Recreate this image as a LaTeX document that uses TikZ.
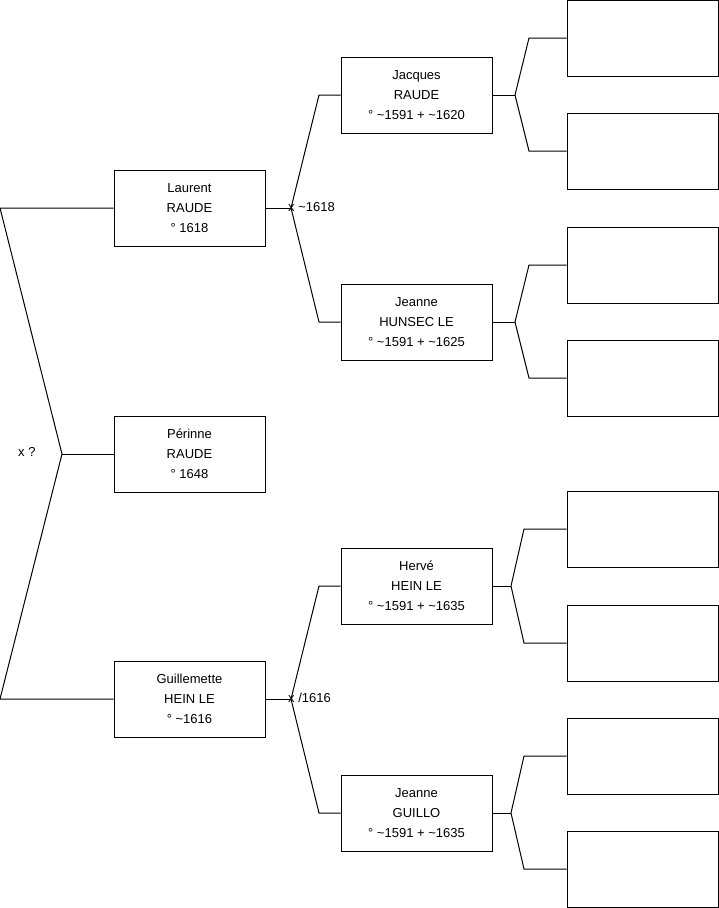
\documentclass[tikz,border=0pt]{standalone}
\usepackage{fontspec}
\setmainfont{Liberation Sans}
\begin{document}
\begin{tikzpicture}[x=1pt,y=-1pt,
  person/.style={draw,line width=1pt,align=center,minimum width=151pt,minimum height=76pt,inner sep=0pt,font=\fontsize{13pt}{20pt}\selectfont},
  link/.style={draw,line width=1pt},
  union/.style={anchor=west,inner sep=0pt,font=\fontsize{13pt}{16pt}\selectfont}]
\useasboundingbox (0,0) rectangle (719,908);
% generation 1
\node[person] (laurent) at (189.5,208) {Laurent\\RAUDE\\° 1618};
\node[person] (perinne) at (189.5,454) {Périnne\\RAUDE\\° 1648};
\node[person] (guillemette) at (189.5,699) {Guillemette\\HEIN LE\\° \textasciitilde1616};
% generation 2
\node[person] (jacques) at (416.5,95) {Jacques\\RAUDE\\° \textasciitilde1591 + \textasciitilde1620};
\node[person] (jeanneh) at (416.5,322) {Jeanne\\HUNSEC LE\\° \textasciitilde1591 + \textasciitilde1625};
\node[person] (herve) at (416.5,586) {Hervé\\HEIN LE\\° \textasciitilde1591 + \textasciitilde1635};
\node[person] (jeanneg) at (416.5,813) {Jeanne\\GUILLO\\° \textasciitilde1591 + \textasciitilde1635};
% generation 3
\node[person] (p1) at (642.5,38) {};
\node[person] (p2) at (642.5,151) {};
\node[person] (p3) at (642.5,265) {};
\node[person] (p4) at (642.5,378) {};
\node[person] (p5) at (642.5,529) {};
\node[person] (p6) at (642.5,643) {};
\node[person] (p7) at (642.5,756) {};
\node[person] (p8) at (642.5,869) {};
% siblings
\coordinate (s0) at (0,208);
\coordinate (s1) at (62,454);
\coordinate (s2) at (0,699);
\draw[link] (laurent.west) -- (s0) -- (s1) -- (s2) -- (guillemette.west);
\draw[link] (s1) -- (perinne.west);
\node[union] (sx) at (18,452) {x ?};
% parents of Laurent
\coordinate (f1) at (291,208);
\draw[link] (laurent.east) -- (f1);
\draw[link] (f1) -- (319,95) -- (jacques.west);
\draw[link] (f1) -- (319,322) -- (jeanneh.west);
\node[union] (m1) at (288,207) {x \textasciitilde1618};
% parents of Guillemette
\coordinate (f2) at (291,699);
\draw[link] (guillemette.east) -- (f2);
\draw[link] (f2) -- (319,586) -- (herve.west);
\draw[link] (f2) -- (319,813) -- (jeanneg.west);
\node[union] (m2) at (288,698) {x /1616};
% generation 3 links
\coordinate (f3) at (515,95);
\draw[link] (jacques.east) -- (f3);
\draw[link] (f3) -- (529,38) -- (p1.west);
\draw[link] (f3) -- (529,151) -- (p2.west);
\coordinate (f4) at (515,322);
\draw[link] (jeanneh.east) -- (f4);
\draw[link] (f4) -- (529,265) -- (p3.west);
\draw[link] (f4) -- (529,378) -- (p4.west);
\coordinate (f5) at (511,586);
\draw[link] (herve.east) -- (f5);
\draw[link] (f5) -- (524,529) -- (p5.west);
\draw[link] (f5) -- (524,643) -- (p6.west);
\coordinate (f6) at (511,813);
\draw[link] (jeanneg.east) -- (f6);
\draw[link] (f6) -- (524,756) -- (p7.west);
\draw[link] (f6) -- (524,869) -- (p8.west);
\end{tikzpicture}
\end{document}
